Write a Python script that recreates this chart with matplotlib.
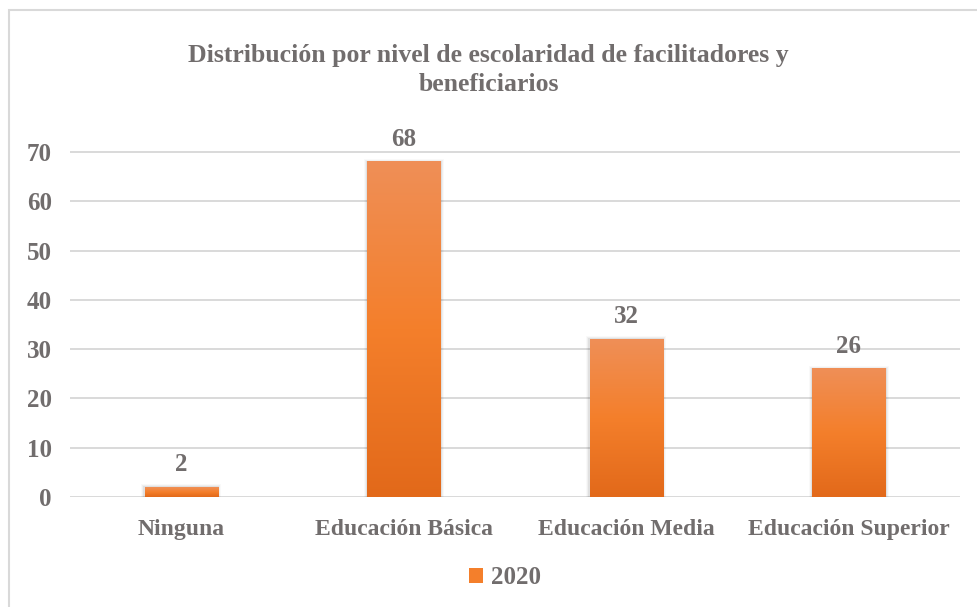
import matplotlib
matplotlib.use("Agg")
import matplotlib.pyplot as plt
import numpy as np
from matplotlib.colors import LinearSegmentedColormap
from matplotlib.patches import Rectangle, Patch

categories = ["Ninguna", "Educación Básica", "Educación Media", "Educación Superior"]
values = [2, 68, 32, 26]
series_name = "2020"
title = "Distribución por nivel de escolaridad de facilitadores y\nbeneficiarios"

plt.rcParams['font.family'] = ['Liberation Serif', 'DejaVu Serif']
txt = '#716d6d'
grid = '#d9d9d9'

fig = plt.figure(figsize=(9.77, 6.07), dpi=100)
ax = fig.add_axes([70/977, 1-497/607, 890/977, (497-132.3)/607])

cmap = LinearSegmentedColormap.from_list('og', ['#e2691a', '#f47f2b', '#ef8f57'])
x = np.arange(len(categories))
width = 0.33
bars = ax.bar(x, values, width=width, color='none', lw=0, zorder=3)
grad = np.linspace(0, 1, 256).reshape(-1, 1)
for b in bars:
    x0, y0 = b.get_x(), b.get_y()
    w, h = b.get_width(), b.get_height()
    # soft shadow
    for i, a in enumerate([0.06, 0.04, 0.025]):
        d = 0.005 * (i + 1)
        ax.add_patch(Rectangle((x0 - d, y0), w + 2 * d, h + 0.2 * (i + 1), color='black', alpha=a, zorder=2, lw=0))
    ax.imshow(grad, cmap=cmap, origin='lower', aspect='auto', extent=[x0, x0 + w, y0, y0 + h],
              zorder=4, interpolation='bilinear')
    ax.annotate(str(b.get_height()), (x0 + w / 2, y0 + h), xytext=(0, 8), textcoords='offset points',
                ha='center', va='bottom', fontsize=18, fontweight='bold', color=txt, zorder=5)

ax.set_xlim(-0.5, len(categories) - 0.5)
ax.set_ylim(0, 74)
ax.set_yticks(range(0, 71, 10))
ax.set_xticks(x)
ax.set_xticklabels(categories)
ax.yaxis.grid(True, color=grid, lw=1.4, zorder=0)
ax.set_axisbelow(True)
for s in ax.spines.values():
    s.set_visible(False)
ax.tick_params(axis='both', length=0, colors=txt)
ax.tick_params(axis='x', pad=16, labelsize=17)
ax.tick_params(axis='y', pad=13, labelsize=18)
for lab in ax.get_xticklabels() + ax.get_yticklabels():
    lab.set_fontweight('bold')

fig.text(0.5, 1 - 70/607, title, ha='center', va='center', fontsize=18.5, fontweight='bold',
         color=txt, linespacing=1.38)

leg = fig.legend(handles=[Patch(facecolor='#f47f2b', label=series_name)], loc='center',
                 bbox_to_anchor=(505/977, 1 - 578/607), frameon=False, fontsize=18,
                 handlelength=0.55, handleheight=0.55, handletextpad=0.3)
for t in leg.get_texts():
    t.set_color(txt)
    t.set_fontweight('bold')

fig.patches.append(Rectangle((9/977, -0.05), 1.1, 1 - 10/607 + 0.05, transform=fig.transFigure,
                             fill=False, edgecolor=grid, lw=1.5, figure=fig))

fig.savefig('out.png', dpi=100)
